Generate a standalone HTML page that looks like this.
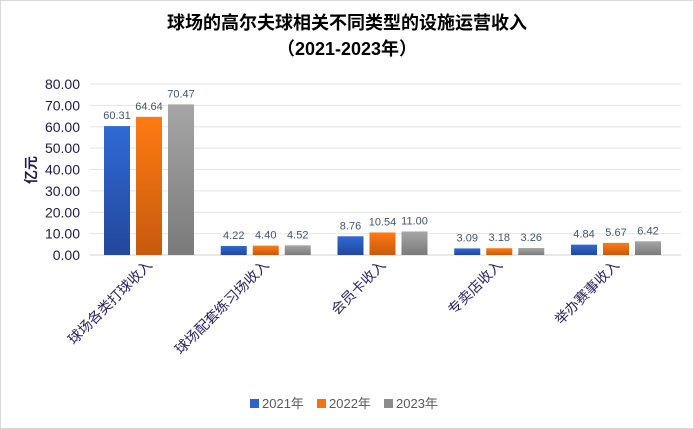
<!DOCTYPE html>
<html><head><meta charset="utf-8"><style>
body{margin:0;background:#fff;}
svg{display:block;font-family:"Liberation Sans","Noto Sans CJK SC",sans-serif;}
</style></head><body>
<svg id="chart" width="694" height="429" viewBox="0 0 694 429">
<defs>
<linearGradient id="gb" x1="0" y1="0" x2="0" y2="1"><stop offset="0" stop-color="#2f6ad6"/><stop offset="1" stop-color="#23479a"/></linearGradient>
<linearGradient id="go" x1="0" y1="0" x2="0" y2="1"><stop offset="0" stop-color="#ff7a12"/><stop offset="1" stop-color="#c65a0e"/></linearGradient>
<linearGradient id="gg" x1="0" y1="0" x2="0" y2="1"><stop offset="0" stop-color="#a6a6a6"/><stop offset="1" stop-color="#7a7a7a"/></linearGradient>
</defs>
<rect x="0.5" y="0.5" width="693" height="428" fill="#fff" stroke="#d9d9d9"/>
<text x="347" y="29" text-anchor="middle" font-size="18" font-weight="bold" fill="#000">球场的高尔夫球相关不同类型的设施运营收入</text>
<text x="347" y="55" text-anchor="middle" font-size="18" font-weight="bold" fill="#000">（2021-2023年）</text>
<text transform="translate(36,170) rotate(-90)" text-anchor="middle" font-size="14" font-weight="bold" fill="#1f1a4a">亿元</text>
<g id="grid"></g><g id="bars"></g><g id="labels"></g>
<g id="legend"></g>
</svg>
<script>
const categories=["球场各类打球收入","球场配套练习场收入","会员卡收入","专卖店收入","举办赛事收入"];
const s2021=[60.31,4.22,8.76,3.09,4.84];
const s2022=[64.64,4.40,10.54,3.18,5.67];
const s2023=[70.47,4.52,11.00,3.26,6.42];
const seriesNames=["2021年","2022年","2023年"];
const yTicks=[0,10,20,30,40,50,60,70,80];
const NS="http://www.w3.org/2000/svg";
const x0=90,x1=681,yb=255,yt=84,ymax=80;
const y=v=>yb-(v/ymax)*(yb-yt);
const bw=116.75;
const cx=i=>149+bw*i;
function mk(t,a,p){const e=document.createElementNS(NS,t);for(const k in a)e.setAttribute(k,a[k]);document.getElementById(p).appendChild(e);return e;}
yTicks.forEach(v=>{
 const l=mk('line',{x1:x0,x2:x1,y1:y(v),y2:y(v),stroke:v===0?'#d0d0d0':'#e4e4e4','stroke-width':1},'grid');
 
 
 const t=mk('text',{x:80,y:y(v)+5,'text-anchor':'end','font-size':14,fill:'#1f1a4a'},'grid');
 t.textContent=v.toFixed(2);
 
 
});
const series=[s2021,s2022,s2023];const fills=['url(#gb)','url(#go)','url(#gg)'];
const w=26,step=32;
categories.forEach((c,i)=>{
 series.forEach((s,j)=>{
  const bx=cx(i)+(j-1)*step-w/2;
  const r=mk('rect',{x:bx,y:y(s[i]),width:w,height:yb-y(s[i]),fill:fills[j]},'bars');
  
  
  const t=mk('text',{x:bx+w/2,y:y(s[i])-7,'text-anchor':'middle','font-size':11,fill:'#44546a'},'labels');
  t.textContent=s[i].toFixed(2);
  
  
 });
 const t=mk('text',{transform:`translate(${cx(i)+4},${266}) rotate(-45)`,'text-anchor':'end','font-size':14,fill:'#2a1f5e'},'labels');
 t.textContent=c;
 
 
});
const lx=[250,317,384];
seriesNames.forEach((n,j)=>{
 const r=mk('rect',{x:lx[j],y:399,width:9,height:9,fill:['#2f62cc','#f5720f','#8c8c8c'][j]},'legend');
 
 
 const t=mk('text',{x:lx[j]+12,y:408,'font-size':13,fill:'#595959'},'legend');
 t.textContent=n;
 
 
});
</script>
</body></html>
